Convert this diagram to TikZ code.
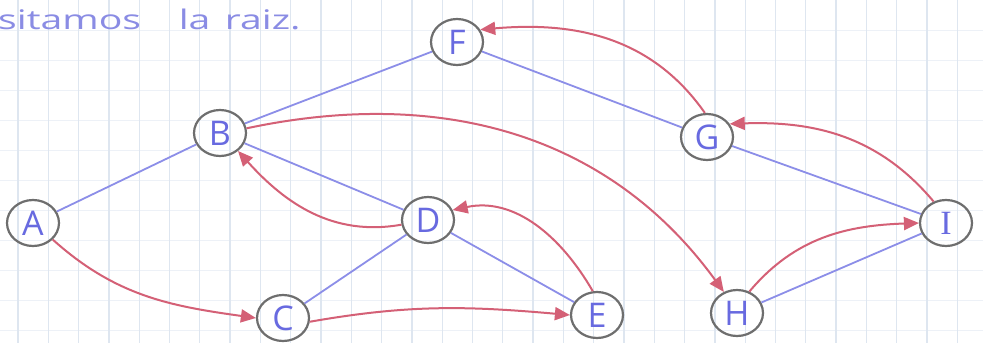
\documentclass[tikz,border=0pt]{standalone}
\usepackage{fontspec}
\usepackage{graphicx}
\setmainfont{Open Sans}
\newfontfamily\serifI{Liberation Serif}
\usetikzlibrary{arrows.meta,shapes.geometric}
\definecolor{pen}{RGB}{104,106,224}
\definecolor{penlight}{RGB}{138,140,228}
\definecolor{edgeblue}{RGB}{140,142,232}
\definecolor{travred}{RGB}{212,96,118}
\definecolor{ring}{RGB}{110,110,110}
\definecolor{gridv}{RGB}{222,230,240}
\definecolor{gridh}{RGB}{237,241,247}
\begin{document}
\begin{tikzpicture}[x=1pt,y=1pt,
  vx/.style={ellipse, draw=ring, line width=2.2pt, minimum width=52pt,
    minimum height=46pt, inner sep=0pt, text=pen,
    font=\fontsize{34}{34}\selectfont},
  edge/.style={draw=edgeblue, line width=1.8pt},
  walk/.style={draw=travred, line width=2pt,
    -{Triangle[length=15pt,width=13pt]}}
]
\useasboundingbox (0,0) rectangle (983,-343);
\fill[white] (0,0) rectangle (983,-343);
\foreach \j in {1,...,11} \draw[gridh, line width=1pt] (0,{-30*\j}) -- ++(983,0);
\foreach \i in {0,...,31} \draw[gridv, line width=1.3pt] ({18+30.3*\i},0) -- ++(0,-343);

\node[anchor=base west, inner sep=0pt, text=penlight] (title) at (-2,-29)
  {\scalebox{1.45}[1]{\fontsize{27}{27}\selectfont sitamos\hspace{26pt}la\hspace{10pt}raiz.}};

\node[vx] (A) at (33,-223) {A};
\node[vx] (B) at (220,-133) {B};
\node[vx] (F) at (457,-42) {F};
\node[vx] (G) at (707,-137) {G};
\node[vx] (D) at (428,-220) {D};
\node[vx] (C) at (283,-318) {C};
\node[vx] (E) at (597,-315) {E};
\node[vx] (H) at (737,-313) {H};
\node[vx] (I) at (946,-223) {\serifI I};

\draw[edge] (A) -- (B);
\draw[edge] (B) -- (F);
\draw[edge] (F) -- (G);
\draw[edge] (G) -- (I);
\draw[edge] (B) -- (D);
\draw[edge] (D) -- (C);
\draw[edge] (D) -- (E);
\draw[edge] (H) -- (I);

\draw[walk] (A.-40) to[out=-42,in=172] (C.west);
\draw[walk] (C.-8) to[out=10,in=175] (E.west);
\draw[walk] (E.100) to[out=120,in=12] (D.22);
\draw[walk] (D.190) to[out=190,in=-48] (B.-45);
\draw[walk] (B.10) to[out=12,in=126] (H.122);
\draw[walk] (H.60) to[out=50,in=182] (I.west);
\draw[walk] (I.120) to[out=130,in=2] (G.30);
\draw[walk] (G.95) to[out=125,in=5] (F.28);
\end{tikzpicture}
\end{document}
